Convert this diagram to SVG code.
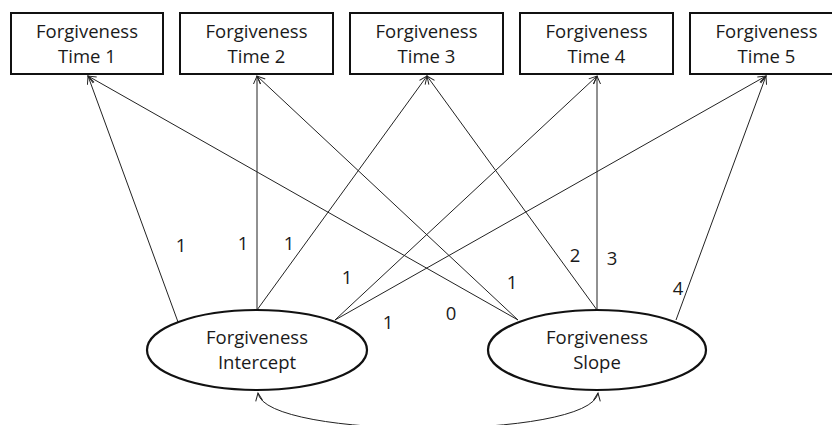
<svg xmlns="http://www.w3.org/2000/svg" width="832" height="425" viewBox="0 0 832 425">
<style>
text{font-family:"Open Sans","Liberation Sans",sans-serif;font-size:18.5px;fill:#1a1a1a;text-anchor:middle}
.box{fill:#fff;stroke:#111;stroke-width:2}
.lat{fill:#fff;stroke:#111;stroke-width:2.2}
.c{fill:none;stroke:#222;stroke-width:1;marker-end:url(#ah)}
.cv{fill:none;stroke:#222;stroke-width:1;marker-start:url(#ah);marker-end:url(#ah)}
</style>
<defs>
<marker id="ah" markerUnits="userSpaceOnUse" markerWidth="10" markerHeight="8" refX="8" refY="3.5" orient="auto-start-reverse" overflow="visible">
<path d="M0,0 L8,3.5 L0,7" fill="none" stroke="#222" stroke-width="1"/>
</marker>
</defs>
<g id="connectors">
<path class="c" d="M178,322 L88,76"/>
<path class="c" d="M257,310 L257,76"/>
<path class="c" d="M257,310 L427,76"/>
<path class="c" d="M335,320 L597,76"/>
<path class="c" d="M335,320 L766,76"/>
<path class="c" d="M518,320 L88,76"/>
<path class="c" d="M518,320 L257,76"/>
<path class="c" d="M597,310 L427,76"/>
<path class="c" d="M597,310 L597,76"/>
<path class="c" d="M676,320 L766,76"/>
<path class="cv" d="M258,393 C265,440 591,440 598,393"/>
</g>
<g id="labels">
<text x="181" y="252">1</text>
<text x="243" y="250">1</text>
<text x="289" y="250">1</text>
<text x="347" y="284">1</text>
<text x="388" y="329">1</text>
<text x="451" y="320">0</text>
<text x="512" y="289">1</text>
<text x="575" y="262">2</text>
<text x="612" y="265">3</text>
<text x="678" y="295">4</text>
</g>
<g id="time1"><rect class="box" x="11" y="13" width="152" height="61"/><text x="87" y="38">Forgiveness</text><text x="87" y="63">Time 1</text></g>
<g id="time2"><rect class="box" x="180" y="13" width="153" height="61"/><text x="256.5" y="38">Forgiveness</text><text x="256.5" y="63">Time 2</text></g>
<g id="time3"><rect class="box" x="350" y="13" width="153" height="61"/><text x="426.5" y="38">Forgiveness</text><text x="426.5" y="63">Time 3</text></g>
<g id="time4"><rect class="box" x="520" y="13" width="153" height="61"/><text x="596.5" y="38">Forgiveness</text><text x="596.5" y="63">Time 4</text></g>
<g id="time5"><rect class="box" x="690" y="13" width="153" height="61"/><text x="766.5" y="38">Forgiveness</text><text x="766.5" y="63">Time 5</text></g>
<g id="intercept"><ellipse class="lat" cx="257" cy="350" rx="110" ry="40"/><text x="257" y="344">Forgiveness</text><text x="257" y="369">Intercept</text></g>
<g id="slope"><ellipse class="lat" cx="597" cy="350" rx="109" ry="40"/><text x="597" y="344">Forgiveness</text><text x="597" y="369">Slope</text></g>
</svg>
